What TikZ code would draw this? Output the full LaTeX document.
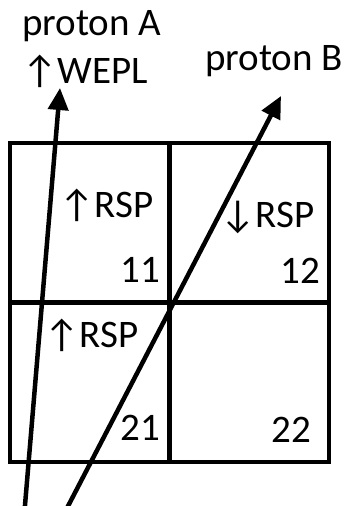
\documentclass[tikz,border=0pt]{standalone}
\usepackage{fontspec}
\setmainfont{Carlito}
\newfontfamily\symfont{DejaVu Sans}
\usetikzlibrary{arrows.meta}
\newcommand{\uparr}{\char"2191}
\newcommand{\downarr}{\char"2193}

\begin{document}
\begin{tikzpicture}[x=1pt, y=-1pt, every node/.style={inner sep=0pt, font=\fontsize{39}{42}\selectfont},%
        cell/.style={draw, line width=4.5pt, minimum size=159.5pt, outer sep=0pt},
        proton/.style={line width=4.5pt, -{Triangle[length=22pt,width=20pt]}}]
        \useasboundingbox (0,0) rectangle (348,506);
        % the four voxels
        \node[cell] (c11) at (89.75,222.75) {};
        \node[cell] (c12) at (249.25,222.75) {};
        \node[cell] (c21) at (89.75,382.25) {};
        \node[cell] (c22) at (249.25,382.25) {};
        % labels in the voxels
        \node[anchor=base west] (rsp11) at (59,217) {\uparr RSP};
        \node[anchor=base west] (rsp12) at (220,227) {\downarr RSP};
        \node[anchor=base west] (rsp21) at (44,347) {\uparr RSP};
        \node[anchor=base east] (n11) at (160,282) {11};
        \node[anchor=base east] (n12) at (320,283) {12};
        \node[anchor=base east] (n21) at (160,440) {21};
        \node[anchor=base east] (n22) at (311,442) {22};
        % protons
        \coordinate (a0) at (24.6,510);
        \coordinate (a1) at (60,88);
        \coordinate (b0) at (66,510);
        \coordinate (b1) at (281,96);
        \draw[proton] (a0) -- (a1);
        \draw[proton] (b0) -- (b1);
        \node[anchor=base west] (pa) at (22,35) {proton A};
        \node[anchor=base west] (wepl) at (22,83) {\uparr WEPL};
        \node[anchor=base west] (pb) at (205,70) {proton B};
    \end{tikzpicture}
\end{document}
